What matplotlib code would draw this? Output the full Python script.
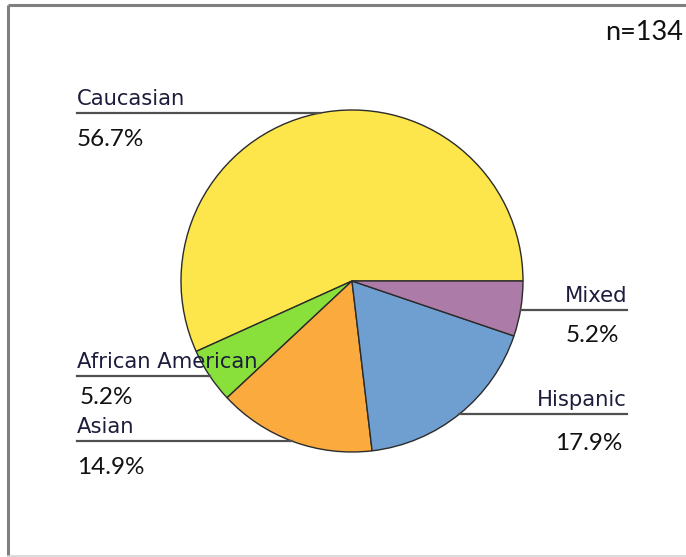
import numpy as np
import matplotlib
matplotlib.use('Agg')
import matplotlib.pyplot as plt

# ethnicity breakdown, counter-clockwise from 3 o'clock
categories = ['Caucasian', 'African American', 'Asian', 'Hispanic', 'Mixed']
shares = [56.7, 5.2, 14.9, 17.9, 5.2]
pct_labels = ['56.7%', '5.2%', '14.9%', '17.9%', '5.2%']
colors = ['#fde64b', '#8ae03a', '#fbab3d', '#6f9fd0', '#ad7ba7']
sample_note = 'n=134'

W, H = 686, 557
cx, cy, r = 352, 281, 171

fig = plt.figure(figsize=(W / 100, H / 100), dpi=100)
ax = fig.add_axes([0, 0, 1, 1])

ax.pie(shares, colors=colors, center=(cx, cy), radius=r, startangle=0,
       counterclock=False,
       wedgeprops=dict(edgecolor='#2b2b2b', linewidth=1.0))
ax.set_xlim(0, W)
ax.set_ylim(H, 0)
ax.set_aspect('equal')
ax.axis('off')

# frame round the chart (right side cut off in the original)
ax.plot([7.5, 7.5], [4.5, 556], color='#7f7f7f', lw=2.2, solid_capstyle='butt')
ax.plot([7.5, W], [4.5, 4.5], color='#7f7f7f', lw=2.2, solid_capstyle='butt')
ax.plot([7.5, W], [555.5, 555.5], color='#d4d4d4', lw=1.2)

# label layout: (line y, side, text x, percent x, percent y)
layout = {
    'Caucasian': (113, 'left', 77, 77, 139),
    'African American': (376, 'left', 77, 80, 398),
    'Asian': (441, 'left', 77, 77, 468),
    'Hispanic': (414, 'right', 627, 622, 444),
    'Mixed': (310, 'right', 627, 619, 336),
}

for name, pct in zip(categories, pct_labels):
    ly, side, tx, px, py = layout[name]
    edge = np.sqrt(r ** 2 - (ly - cy) ** 2)
    if side == 'left':
        x0, x1 = tx, cx - edge
        ha = 'left'
    else:
        x0, x1 = cx + edge, tx
        ha = 'right'
    ax.plot([x0, x1], [ly, ly], color='#505050', lw=1.6, zorder=1)
    ax.text(tx, ly - 4, name, ha=ha, va='bottom', fontsize=15.2,
            family='DejaVu Sans', color='#1c1c3c', zorder=5)
    ax.text(px, py, pct, ha=ha, va='center', fontsize=17.5,
            family='Lato', color='#111111')

ax.text(683, 33, sample_note, ha='right', va='center', fontsize=19.5,
        family='Lato', color='#111111')

fig.savefig('out.png', dpi=100)
